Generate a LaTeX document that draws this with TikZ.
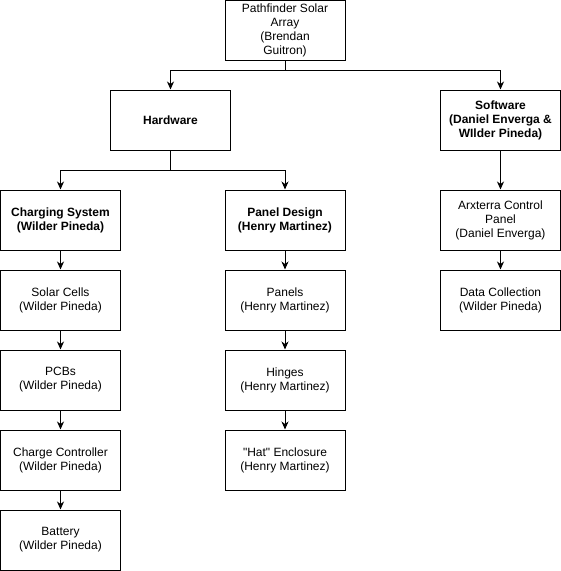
\documentclass[tikz,border=0pt]{standalone}
\usepackage{fontspec}
\setmainfont{Liberation Sans}
\usetikzlibrary{arrows.meta}

\begin{document}
\begin{tikzpicture}[x=1pt,y=-1pt,>={Stealth[length=8pt,width=7pt,inset=2.5pt]},line width=1pt,
  box/.style={draw,minimum width=120pt,minimum height=60pt,inner sep=0pt,align=center,font=\fontsize{12}{14}\selectfont},
  headbox/.style={box,font=\fontsize{12}{14}\selectfont\bfseries}]
\useasboundingbox (0,0) rectangle (561,571);
% top level
\node[box] (root) at (285,30) {Pathfinder Solar\\Array\\(Brendan\\Guitron)};
\node[headbox] (hw) at (170.5,120) {Hardware};
\node[headbox] (sw) at (500.5,120) {Software\\(Daniel Enverga \&\\WIlder Pineda)};
% hardware branches
\node[headbox] (chg) at (60.5,220) {Charging System\\(Wilder Pineda)};
\node[headbox] (pnl) at (285,220) {Panel Design\\(Henry Martinez)};
\node[box] (cells) at (60.5,300) {Solar Cells\\(Wilder Pineda)};
\node[box] (pcb) at (60.5,380) {PCBs\\(Wilder Pineda)};
\node[box] (ctrl) at (60.5,460) {Charge Controller\\(Wilder Pineda)};
\node[box] (bat) at (60.5,540) {Battery\\(Wilder Pineda)};
\node[box] (panels) at (285,300) {Panels\\(Henry Martinez)};
\node[box] (hinge) at (285,380) {Hinges\\(Henry Martinez)};
\node[box] (hat) at (285,460) {\textquotedbl Hat\textquotedbl{} Enclosure\\(Henry Martinez)};
% software branch
\node[box] (arx) at (500.5,220) {Arxterra Control\\Panel\\(Daniel Enverga)};
\node[box] (data) at (500.5,300) {Data Collection\\(Wilder Pineda)};
% connectors
\draw[->] (root.south) -- ++(0,10) -| (hw.north);
\draw[->] (root.south) -- ++(0,10) -| (sw.north);
\draw[->] (hw.south) -- ++(0,20) -| (chg.north);
\draw[->] (hw.south) -- ++(0,20) -| (pnl.north);
\draw[->] (sw) -- (arx);
\draw[->] (arx) -- (data);
\draw[->] (chg) -- (cells);
\draw[->] (cells) -- (pcb);
\draw[->] (pcb) -- (ctrl);
\draw[->] (ctrl) -- (bat);
\draw[->] (pnl) -- (panels);
\draw[->] (panels) -- (hinge);
\draw[->] (hinge) -- (hat);
\end{tikzpicture}
\end{document}
